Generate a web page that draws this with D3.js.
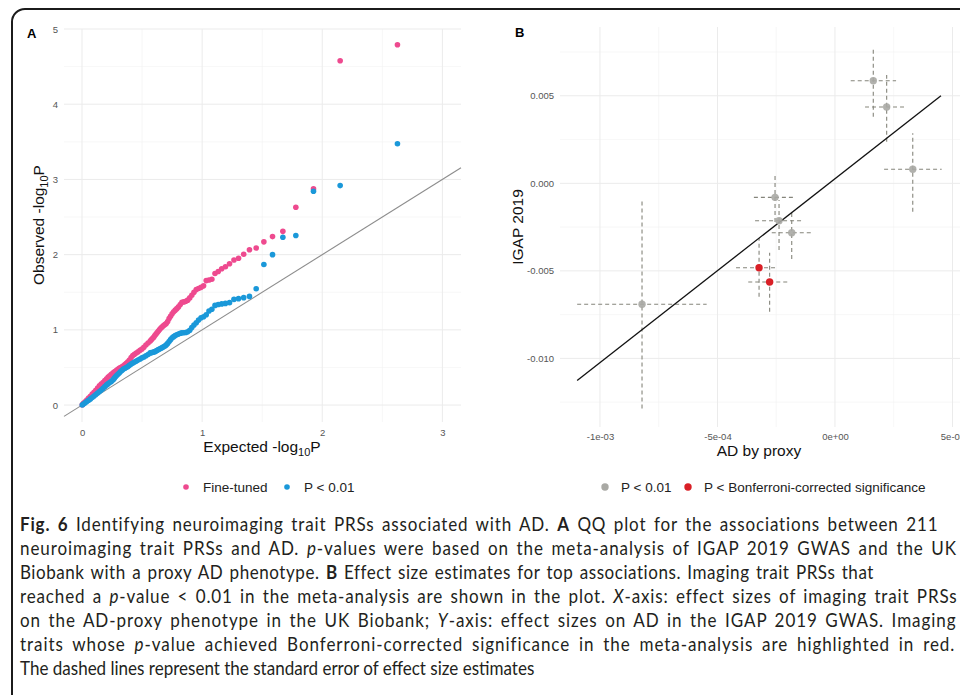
<!DOCTYPE html>
<html>
<head>
<meta charset="utf-8">
<script src="https://cdn.jsdelivr.net/npm/d3@7"></script>
<style>
  body { margin: 0; background: #fff; }
  svg text { font-family: "Liberation Sans", Arial, sans-serif; }
</style>
</head>
<body>
<div id="viz"></div>
<script>
// fig6.js

var width = 960, height = 695;

// Panel A: QQ plot, [expected, observed] pairs
var fineTuned = [
  [2.626,4.79],[2.149,4.578],[1.927,2.874],[1.780,2.63],[1.672,2.31],[1.586,2.24],[1.514,2.17],
  [1.450,2.088],[1.394,2.065],[1.346,2.005],[1.303,1.952],[1.265,1.928],[1.228,1.878],[1.194,1.84],
  [1.163,1.812],[1.134,1.775],[1.107,1.75],[1.081,1.672],[1.057,1.662],[1.034,1.655],[1.012,1.585],
  [0.991,1.565],[0.970,1.55],[0.951,1.536],[0.932,1.5],[0.914,1.46],[0.897,1.425],[0.880,1.395],
  [0.864,1.38],[0.848,1.372],[0.832,1.366],[0.818,1.337],[0.803,1.305],[0.789,1.282],[0.776,1.262],
  [0.763,1.24],[0.750,1.215],[0.737,1.18],[0.725,1.15],[0.713,1.11],[0.701,1.085],[0.690,1.07],
  [0.679,1.058],[0.668,1.042],[0.657,1.025],[0.646,1.005],[0.636,0.985],[0.626,0.965],[0.616,0.945],
  [0.606,0.925],[0.596,0.9],[0.586,0.885],[0.577,0.868],[0.568,0.852],[0.550,0.825],[0.532,0.798],
  [0.515,0.768],[0.499,0.745],[0.483,0.728],[0.467,0.708],[0.452,0.692],[0.437,0.675],[0.423,0.66],
  [0.409,0.632],[0.395,0.6],[0.382,0.575],[0.369,0.555],[0.357,0.538],[0.345,0.522],[0.333,0.508],
  [0.321,0.498],[0.310,0.488],[0.299,0.475],[0.288,0.462],[0.278,0.45],[0.268,0.438],[0.258,0.425],
  [0.244,0.408],[0.231,0.39],[0.218,0.372],[0.205,0.35],[0.190,0.325],[0.175,0.3],[0.160,0.278],
  [0.145,0.255],[0.130,0.225],[0.115,0.198],[0.100,0.17],[0.085,0.145],[0.070,0.118],[0.055,0.092],
  [0.040,0.068],[0.026,0.045],[0.012,0.022],[0.002,0.004]
];
var pBelow01 = [
  [2.626,3.475],[2.149,2.918],[1.927,2.842],[1.780,2.254],[1.672,2.231],[1.586,2.0],[1.514,1.868],
  [1.450,1.546],[1.394,1.445],[1.346,1.428],[1.303,1.415],[1.265,1.405],[1.228,1.362],[1.194,1.352],
  [1.163,1.345],[1.134,1.338],[1.107,1.325],[1.081,1.275],[1.057,1.25],[1.034,1.2],[1.012,1.175],
  [0.991,1.16],[0.970,1.13],[0.951,1.095],[0.932,1.065],[0.914,1.03],[0.897,0.995],[0.880,0.975],
  [0.864,0.965],[0.848,0.962],[0.832,0.96],[0.818,0.955],[0.803,0.945],[0.789,0.935],[0.776,0.925],
  [0.763,0.91],[0.750,0.895],[0.737,0.87],[0.725,0.845],[0.713,0.82],[0.701,0.8],[0.690,0.785],
  [0.679,0.775],[0.668,0.765],[0.657,0.755],[0.646,0.745],[0.636,0.738],[0.626,0.728],[0.616,0.718],
  [0.606,0.71],[0.596,0.705],[0.586,0.7],[0.577,0.698],[0.568,0.694],[0.550,0.672],[0.532,0.655],
  [0.515,0.64],[0.499,0.628],[0.483,0.612],[0.467,0.598],[0.452,0.585],[0.437,0.572],[0.423,0.56],
  [0.409,0.545],[0.395,0.528],[0.382,0.512],[0.369,0.5],[0.357,0.49],[0.345,0.478],[0.333,0.462],
  [0.321,0.445],[0.310,0.425],[0.299,0.41],[0.288,0.392],[0.278,0.375],[0.268,0.355],[0.258,0.335],
  [0.244,0.315],[0.231,0.3],[0.218,0.285],[0.205,0.268],[0.190,0.245],[0.175,0.222],[0.160,0.2],
  [0.145,0.18],[0.130,0.16],[0.115,0.14],[0.100,0.12],[0.085,0.1],[0.070,0.082],[0.055,0.064],
  [0.040,0.047],[0.026,0.03],[0.012,0.014],[0.002,0.002]
];
var ticksA = [0, 1, 2, 3];
var yTicksA = [0, 1, 2, 3, 4, 5];

// Panel B: effect sizes, x = AD by proxy, y = IGAP 2019
var traitX   = [1.63e-4, 2.20e-4, 3.31e-4, -2.55e-4, -2.38e-4, -1.84e-4, -8.21e-4, -3.23e-4, -2.78e-4];
var traitY   = [0.00586, 0.00436, 0.00080, -0.00080, -0.00214, -0.00282, -0.00691, -0.00482, -0.00564];
var traitXlo = [0.67e-4, 1.28e-4, 2.09e-4, -3.45e-4, -3.40e-4, -2.69e-4, -10.97e-4, -4.21e-4, -3.69e-4];
var traitXhi = [2.60e-4, 3.02e-4, 4.54e-4, -1.70e-4, -1.36e-4, -0.99e-4, -5.46e-4, -2.48e-4, -1.91e-4];
var traitYlo = [0.00381, 0.00238, -0.00162, -0.00221, -0.00381, -0.00433, -0.01286, -0.00648, -0.00734];
var traitYhi = [0.00771, 0.00619, 0.00286, 0.00047, -0.00095, -0.00153, -0.00095, -0.00313, -0.00397];
var traitGroup = ["p01", "p01", "p01", "p01", "p01", "p01", "p01", "bonf", "bonf"];
var fitRange = [-1.097e-3, 0.451e-3];
var fitIntercept = 0.000263, fitSlope = 10.504;
var xTicksB = [-1e-3, -5e-4, 0, 5e-4];
var xTickLabelsB = ["-1e-03", "-5e-04", "0e+00", "5e-04"];
var yTicksB = [0.005, 0, -0.005, -0.010];
var yTickLabelsB = ["0.005", "0.000", "-0.005", "-0.010"];

var pink = "#ee4a8f", blue = "#1a98d9", grey = "#a9a9a4", red = "#d91f26";

var svg = d3.select("#viz")
  .append("svg")
    .attr("width", width)
    .attr("height", height);

// outer frame (rounded, runs off the right and bottom edges)
svg.append("rect")
  .attr("x", 12).attr("y", 9)
  .attr("width", 1100).attr("height", 900)
  .attr("rx", 13)
  .attr("fill", "none")
  .attr("stroke", "#1b1b1b")
  .attr("stroke-width", 2);

function styleAxis(a) {
  a.select(".domain").remove();
  a.selectAll("text").attr("fill", "#555").style("font-size", "9.5px")
    .style("font-family", "Liberation Sans, Arial, sans-serif");
}

function renderQQ(svg) {
  var x = d3.scaleLinear().domain([-0.15, 3.155]).range([64, 461]);
  var y = d3.scaleLinear().domain([-0.225, 5.0]).range([422, 29]);

  var minor = svg.append("g").attr("stroke", "#f2f2f2").attr("stroke-width", 0.6);
  minor.selectAll("line.vm").data([0.5, 1.5, 2.5]).enter().append("line")
    .attr("x1", x).attr("x2", x).attr("y1", 29).attr("y2", 422);
  minor.selectAll("line.hm").data([0.5, 1.5, 2.5, 3.5, 4.5]).enter().append("line")
    .attr("x1", 64).attr("x2", 461).attr("y1", y).attr("y2", y);

  var major = svg.append("g").attr("stroke", "#ebebeb").attr("stroke-width", 1);
  major.selectAll("line.v").data(ticksA).enter().append("line")
    .attr("x1", x).attr("x2", x).attr("y1", 29).attr("y2", 422);
  major.selectAll("line.h").data(yTicksA).enter().append("line")
    .attr("x1", 64).attr("x2", 461).attr("y1", y).attr("y2", y);

  // y = x reference
  svg.append("line")
    .attr("x1", x(-0.15)).attr("y1", y(-0.15))
    .attr("x2", x(3.155)).attr("y2", y(3.155))
    .attr("stroke", "#8c8c8c").attr("stroke-width", 1.1);

  svg.append("g").selectAll("circle")
    .data(fineTuned).enter().append("circle")
      .attr("cx", function (d) { return x(d[0]); })
      .attr("cy", function (d) { return y(d[1]); })
      .attr("r", 2.8)
      .attr("fill", pink);
  svg.append("g").selectAll("circle")
    .data(pBelow01).enter().append("circle")
      .attr("cx", function (d) { return x(d[0]); })
      .attr("cy", function (d) { return y(d[1]); })
      .attr("r", 2.8)
      .attr("fill", blue);

  styleAxis(svg.append("g").attr("transform", "translate(0,422)")
    .call(d3.axisBottom(x).tickValues(ticksA).tickFormat(d3.format("d")).tickSize(0).tickPadding(7)));
  styleAxis(svg.append("g").attr("transform", "translate(64,0)")
    .call(d3.axisLeft(y).tickValues(yTicksA).tickFormat(d3.format("d")).tickSize(0).tickPadding(6)));

  var xt = svg.append("text").attr("x", 262).attr("y", 452)
    .attr("text-anchor", "middle").style("font-size", "15.5px").attr("fill", "#111");
  xt.append("tspan").text("Expected -log");
  xt.append("tspan").attr("dy", 4).style("font-size", "11px").text("10");
  xt.append("tspan").attr("dy", -4).text("P");

  var yt = svg.append("text").attr("transform", "translate(44,225) rotate(-90)")
    .attr("text-anchor", "middle").style("font-size", "15.5px").attr("fill", "#111");
  yt.append("tspan").text("Observed -log");
  yt.append("tspan").attr("dy", 4).style("font-size", "11px").text("10");
  yt.append("tspan").attr("dy", -4).text("P");

  svg.append("text").attr("x", 27).attr("y", 38).text("A")
    .style("font-size", "13px").style("font-weight", "bold");

  // legend
  var leg = [{ c: pink, t: "Fine-tuned", x: 186 }, { c: blue, t: "P < 0.01", x: 287 }];
  var lg = svg.append("g").selectAll("g").data(leg).enter().append("g");
  lg.append("circle").attr("cx", function (d) { return d.x; }).attr("cy", 487)
    .attr("r", 2.8).attr("fill", function (d) { return d.c; });
  lg.append("text").attr("x", function (d) { return d.x + 17; }).attr("y", 492)
    .style("font-size", "13.5px").attr("fill", "#222").text(function (d) { return d.t; });
}

function renderEffects(svg) {
  var x = d3.scaleLinear().domain([-1.17e-3, 0.532e-3]).range([560, 960]);
  var y = d3.scaleLinear().domain([-0.01392, 0.00893]).range([427, 27]);

  var minor = svg.append("g").attr("stroke", "#f2f2f2").attr("stroke-width", 0.6);
  minor.selectAll("line.v").data([-7.5e-4, -2.5e-4, 2.5e-4]).enter().append("line")
    .attr("x1", x).attr("x2", x).attr("y1", 27).attr("y2", 427);
  minor.selectAll("line.h").data([0.0075, 0.0025, -0.0025, -0.0075, -0.0125]).enter().append("line")
    .attr("x1", 560).attr("x2", 960).attr("y1", y).attr("y2", y);
  var major = svg.append("g").attr("stroke", "#ebebeb").attr("stroke-width", 1);
  major.selectAll("line.v").data(xTicksB).enter().append("line")
    .attr("x1", x).attr("x2", x).attr("y1", 27).attr("y2", 427);
  major.selectAll("line.h").data(yTicksB).enter().append("line")
    .attr("x1", 560).attr("x2", 960).attr("y1", y).attr("y2", y);

  var idx = d3.range(traitX.length);
  var bars = svg.append("g").attr("stroke", "#85857b").attr("stroke-width", 1.1)
    .attr("stroke-dasharray", "4,3");
  bars.selectAll("line.h").data(idx).enter().append("line")
    .attr("x1", function (i) { return x(traitXlo[i]); })
    .attr("x2", function (i) { return x(traitXhi[i]); })
    .attr("y1", function (i) { return y(traitY[i]); })
    .attr("y2", function (i) { return y(traitY[i]); });
  bars.selectAll("line.v").data(idx).enter().append("line")
    .attr("x1", function (i) { return x(traitX[i]); })
    .attr("x2", function (i) { return x(traitX[i]); })
    .attr("y1", function (i) { return y(traitYlo[i]); })
    .attr("y2", function (i) { return y(traitYhi[i]); });

  svg.append("line")
    .attr("x1", x(fitRange[0])).attr("y1", y(fitIntercept + fitSlope * fitRange[0]))
    .attr("x2", x(fitRange[1])).attr("y2", y(fitIntercept + fitSlope * fitRange[1]))
    .attr("stroke", "#111").attr("stroke-width", 1.3);

  svg.append("g").selectAll("circle").data(idx).enter().append("circle")
    .attr("cx", function (i) { return x(traitX[i]); })
    .attr("cy", function (i) { return y(traitY[i]); })
    .attr("r", 3.7)
    .attr("fill", function (i) { return traitGroup[i] == "bonf" ? red : grey; })
    .attr("fill-opacity", function (i) { return traitGroup[i] == "bonf" ? 1 : 0.9; });

  styleAxis(svg.append("g").attr("transform", "translate(0,427)")
    .call(d3.axisBottom(x).tickValues(xTicksB).tickSize(0).tickPadding(6)
      .tickFormat(function (d, i) { return xTickLabelsB[i]; })));
  styleAxis(svg.append("g").attr("transform", "translate(560,0)")
    .call(d3.axisLeft(y).tickValues(yTicksB).tickSize(0).tickPadding(6)
      .tickFormat(function (d, i) { return yTickLabelsB[i]; })));

  svg.append("text").attr("x", 759).attr("y", 456).attr("text-anchor", "middle")
    .style("font-size", "15.5px").attr("fill", "#111").text("AD by proxy");
  svg.append("text").attr("transform", "translate(523,227) rotate(-90)")
    .attr("text-anchor", "middle").style("font-size", "15.5px").attr("fill", "#111")
    .text("IGAP 2019");
  svg.append("text").attr("x", 515).attr("y", 37).text("B")
    .style("font-size", "13px").style("font-weight", "bold");

  var leg = [{ c: grey, t: "P < 0.01", x: 605 }, { c: red, t: "P < Bonferroni-corrected significance", x: 688 }];
  var lg = svg.append("g").selectAll("g").data(leg).enter().append("g");
  lg.append("circle").attr("cx", function (d) { return d.x; }).attr("cy", 487)
    .attr("r", 3.7).attr("fill", function (d) { return d.c; });
  lg.append("text").attr("x", function (d) { return d.x + 16; }).attr("y", 492)
    .style("font-size", "13.5px").attr("fill", "#222").text(function (d) { return d.t; });
}

// caption, one entry per printed line: [text, style] pieces, then right edge
var caption = [
  [[["Fig. 6", "b"], [" Identifying neuroimaging trait PRSs associated with AD. ", ""], ["A", "b"],
    [" QQ plot for the associations between 211", ""]], 940],
  [[["neuroimaging trait PRSs and AD. ", ""], ["p", "i"],
    ["-values were based on the meta-analysis of IGAP 2019 GWAS and the UK", ""]], 958],
  [[["Biobank with a proxy AD phenotype. ", ""], ["B", "b"],
    [" Effect size estimates for top associations. Imaging trait PRSs that", ""]], 875],
  [[["reached a ", ""], ["p", "i"], ["-value < 0.01 in the meta-analysis are shown in the plot. ", ""],
    ["X", "i"], ["-axis: effect sizes of imaging trait PRSs", ""]], 958],
  [[["on the AD-proxy phenotype in the UK Biobank; ", ""], ["Y", "i"],
    ["-axis: effect sizes on AD in the IGAP 2019 GWAS. Imaging", ""]], 957],
  [[["traits whose ", ""], ["p", "i"],
    ["-value achieved Bonferroni-corrected significance in the meta-analysis are highlighted in red.", ""]], 956],
  [[["The dashed lines represent the standard error of effect size estimates", ""]], 535]
];

// justified block: the last line sets the glyph squeeze, the others share the slack
// between letter gaps and word gaps
function renderCaption(svg) {
  var nodes = caption.map(function (line, k) {
    var t = svg.append("text")
      .style("font-family", "Lato, 'Open Sans', sans-serif")
      .style("font-size", "18.5px").attr("fill", "#231f20");
    line[0].forEach(function (p) {
      var s = t.append("tspan").text(p[0]);
      if (p[1] == "b") s.style("font-weight", "bold");
      if (p[1] == "i") s.style("font-style", "italic");
    });
    return t;
  });
  var last = caption.length - 1;
  var sx = (caption[last][1] - 20) / nodes[last].node().getComputedTextLength();
  nodes.forEach(function (t, k) {
    var w = t.node().getComputedTextLength();
    var target = (caption[k][1] - 20) / sx;
    var str = caption[k][0].map(function (p) { return p[0]; }).join("");
    var gaps = (str.match(/ /g) || []).length;
    var s = sx;
    if (k != last && target > w && gaps > 0) {
      var extra = target - w;
      t.style("letter-spacing", (0.7 * extra / str.length) + "px")
       .style("word-spacing", (0.3 * extra / gaps) + "px");
    } else if (k != last) {
      s = (caption[k][1] - 20) / w;
    }
    t.attr("transform", "translate(20," + (531 + k * 24) + ") scale(" + s + ",1)");
  });
}

renderQQ(svg);
renderEffects(svg);
renderCaption(svg);

// The End
</script>
</body>
</html>
